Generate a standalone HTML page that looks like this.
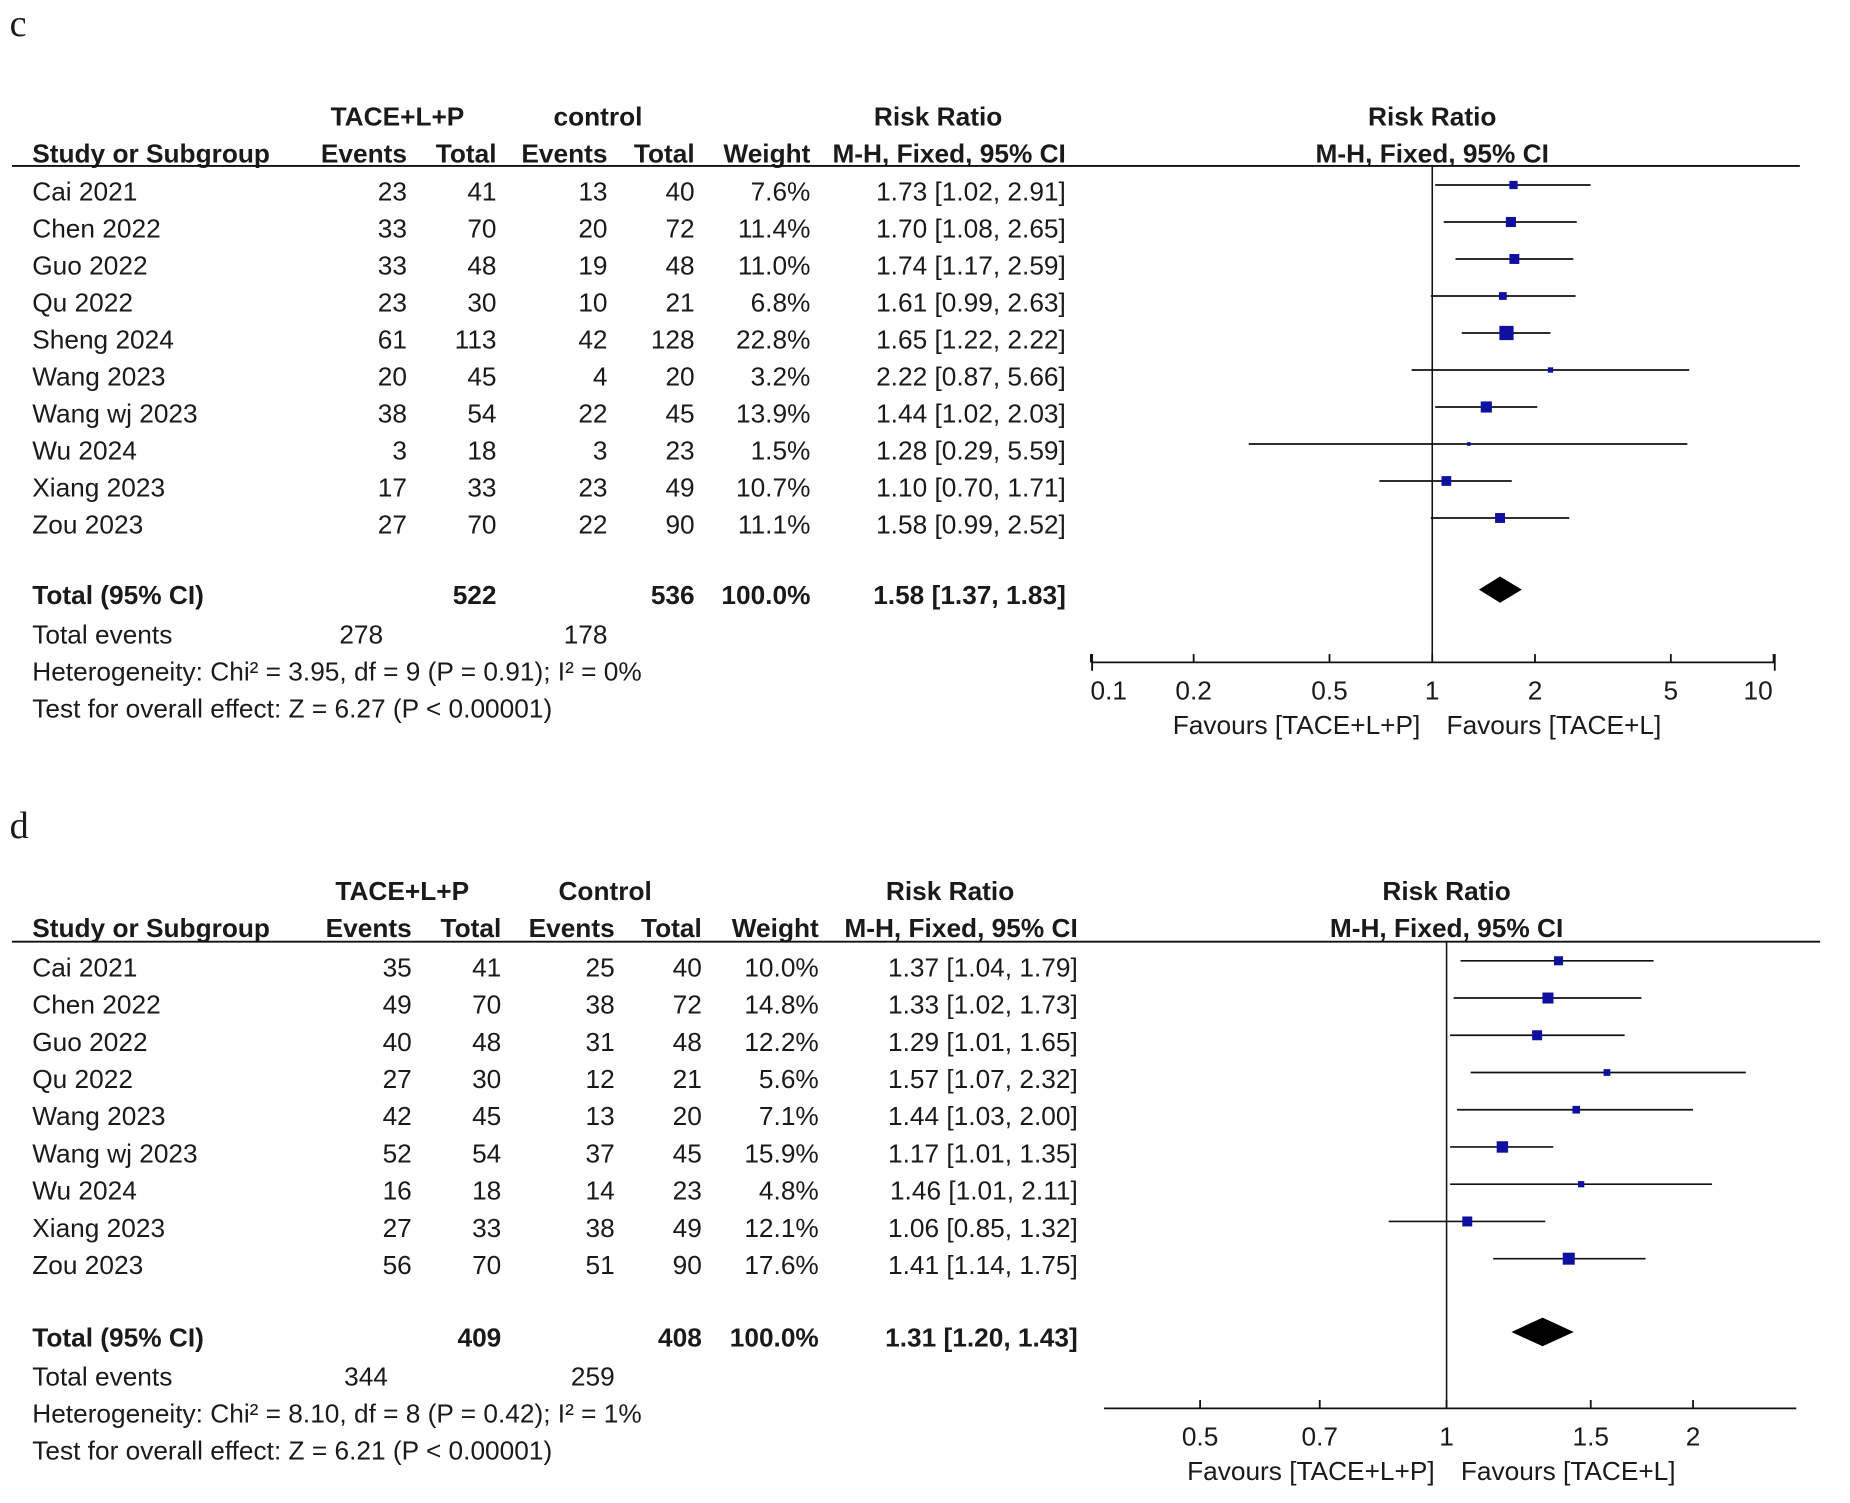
<!DOCTYPE html>
<html><head><meta charset="utf-8"><style>
html,body{margin:0;padding:0;background:#fff}
svg{display:block}
text{font-family:"Liberation Sans",Arial,sans-serif;font-size:22px;fill:#1a1a1a}
.b{font-weight:bold}
</style></head><body>
<svg id="fig" width="1850" height="1503" viewBox="0 0 1550 1259.3"></svg>
<script>
// ---- Panel c data ----
const cStudies=["Cai 2021","Chen 2022","Guo 2022","Qu 2022","Sheng 2024","Wang 2023","Wang wj 2023","Wu 2024","Xiang 2023","Zou 2023"];
const cEvT=[23,33,33,23,61,20,38,3,17,27];
const cTotT=[41,70,48,30,113,45,54,18,33,70];
const cEvC=[13,20,19,10,42,4,22,3,23,22];
const cTotC=[40,72,48,21,128,20,45,23,49,90];
const cWeight=[7.6,11.4,11.0,6.8,22.8,3.2,13.9,1.5,10.7,11.1];
const cRR=[1.73,1.70,1.74,1.61,1.65,2.22,1.44,1.28,1.10,1.58];
const cLo=[1.02,1.08,1.17,0.99,1.22,0.87,1.02,0.29,0.70,0.99];
const cHi=[2.91,2.65,2.59,2.63,2.22,5.66,2.03,5.59,1.71,2.52];
const cTotal=[1.58,1.37,1.83];
const cTicks=[0.1,0.2,0.5,1,2,5,10];
const cTickLabels=["0.1","0.2","0.5","1","2","5","10"];
// ---- Panel d data ----
const dStudies=["Cai 2021","Chen 2022","Guo 2022","Qu 2022","Wang 2023","Wang wj 2023","Wu 2024","Xiang 2023","Zou 2023"];
const dEvT=[35,49,40,27,42,52,16,27,56];
const dTotT=[41,70,48,30,45,54,18,33,70];
const dEvC=[25,38,31,12,13,37,14,38,51];
const dTotC=[40,72,48,21,20,45,23,49,90];
const dWeight=[10.0,14.8,12.2,5.6,7.1,15.9,4.8,12.1,17.6];
const dRR=[1.37,1.33,1.29,1.57,1.44,1.17,1.46,1.06,1.41];
const dLo=[1.04,1.02,1.01,1.07,1.03,1.01,1.01,0.85,1.14];
const dHi=[1.79,1.73,1.65,2.32,2.00,1.35,2.11,1.32,1.75];
const dTotal=[1.31,1.20,1.43];
const dTicks=[0.5,0.7,1,1.5,2];
const dTickLabels=["0.5","0.7","1","1.5","2"];

const NS="http://www.w3.org/2000/svg";
const svg=document.getElementById('fig');
function el(tag,attrs,parent){const e=document.createElementNS(NS,tag);for(const k in attrs)e.setAttribute(k,attrs[k]);(parent||svg).appendChild(e);return e;}
function txt(x,y,s,anchor,cls,name,parent){
  const t=el('text',{x:x,y:y,'text-anchor':anchor||'start'},parent);
  if(cls)t.setAttribute('class',cls);
  t.textContent=s;
  
  
  return t;
}
function f2(v){return v.toFixed(2);}

function panel(cfg){
  const g=el('g',{});
  
  
  const P=cfg.p;
  const t=el('text',{x:8,y:P.letterY,style:'font-family:"Liberation Serif",serif;font-size:32px'},g);
  t.textContent=cfg.id;
  
  
  txt(P.cEvT-8,P.h1,"TACE+L+P","middle","b","group-header-experimental",g);
  txt(P.cEvC-8,P.h1,cfg.ctrlName,"middle","b","group-header-control",g);
  txt(P.cRR-107,P.h1,"Risk Ratio","middle","b","risk-ratio-header",g);
  txt(P.x1,P.h1,"Risk Ratio","middle","b","plot-header",g);
  txt(27,P.h2,"Study or Subgroup","start","b","study-column-header",g);
  txt(P.cEvT,P.h2,"Events","end","b","events-header-exp",g);
  txt(P.cTotT,P.h2,"Total","end","b","total-header-exp",g);
  txt(P.cEvC,P.h2,"Events","end","b","events-header-ctrl",g);
  txt(P.cTotC,P.h2,"Total","end","b","total-header-ctrl",g);
  txt(P.cW,P.h2,"Weight","end","b","weight-header",g);
  txt(P.cRR,P.h2,"M-H, Fixed, 95% CI","end","b","rr-ci-header",g);
  txt(P.x1,P.h2,"M-H, Fixed, 95% CI","middle","b","plot-ci-header",g);
  const hl=el('line',{x1:10,x2:P.lineEnd,y1:P.hline,y2:P.hline,stroke:'#111','stroke-width':1.6},g);
  
  
  const X=v=>P.x1+Math.log10(v)*P.dec;
  const n=cfg.studies.length;
  const nl=el('line',{x1:X(1),x2:X(1),y1:P.hline,y2:P.axisY,stroke:'#111','stroke-width':1.3},g);
  
  
  for(let i=0;i<n;i++){
    const y=P.row0+i*P.rs;
    const ty=y+8;
    txt(27,ty,cfg.studies[i],"start",null,"study-name",g);
    txt(P.cEvT,ty,String(cfg.evT[i]),"end",null,"events-exp",g);
    txt(P.cTotT,ty,String(cfg.totT[i]),"end",null,"total-exp",g);
    txt(P.cEvC,ty,String(cfg.evC[i]),"end",null,"events-ctrl",g);
    txt(P.cTotC,ty,String(cfg.totC[i]),"end",null,"total-ctrl",g);
    txt(P.cW,ty,cfg.w[i].toFixed(1)+"%","end",null,"weight-value",g);
    txt(P.cRR,ty,f2(cfg.rr[i])+" ["+f2(cfg.lo[i])+", "+f2(cfg.hi[i])+"]","end",null,"rr-ci-value",g);
    const my=y-5;
    const ci=el('line',{x1:X(cfg.lo[i]),x2:X(cfg.hi[i]),y1:my,y2:my,stroke:'#111','stroke-width':1.4},g);
    
    
    const s=Math.max(3,Math.sqrt(cfg.w[i])*P.sq);
    const sq=el('rect',{x:X(cfg.rr[i])-s/2,y:my-s/2,width:s,height:s,fill:'#1010a0'},g);
    
    
  }
  txt(27,P.totY+8,"Total (95% CI)","start","b","total-label",g);
  txt(P.cTotT,P.totY+8,String(cfg.totT.reduce((a,b)=>a+b,0)),"end","b","total-exp-sum",g);
  txt(P.cTotC,P.totY+8,String(cfg.totC.reduce((a,b)=>a+b,0)),"end","b","total-ctrl-sum",g);
  txt(P.cW,P.totY+8,"100.0%","end","b","total-weight",g);
  txt(P.cRR,P.totY+8,f2(cfg.tot[0])+" ["+f2(cfg.tot[1])+", "+f2(cfg.tot[2])+"]","end","b","total-rr-ci",g);
  const dy=P.totY-4, hh=P.dh;
  const dm=el('polygon',{points:[X(cfg.tot[1])+','+dy,X(cfg.tot[0])+','+(dy-hh),X(cfg.tot[2])+','+dy,X(cfg.tot[0])+','+(dy+hh)].join(' '),fill:'#000'},g);
  
  
  txt(27,P.totY+41,"Total events","start",null,"total-events-label",g);
  txt(P.cEvT-20,P.totY+41,String(cfg.evT.reduce((a,b)=>a+b,0)),"end",null,"total-events-exp",g);
  txt(P.cEvC,P.totY+41,String(cfg.evC.reduce((a,b)=>a+b,0)),"end",null,"total-events-ctrl",g);
  txt(27,P.totY+72,cfg.het,"start",null,"heterogeneity-text",g);
  txt(27,P.totY+103,cfg.test,"start",null,"overall-effect-text",g);
  const ax=el('line',{x1:P.axL,x2:P.axR,y1:P.axisY,y2:P.axisY,stroke:'#111','stroke-width':1.5},g);
  
  
  if(cfg.endTicks){
    [P.axL,P.axR].forEach(x=>{const e=el('line',{x1:x,x2:x,y1:P.axisY-7,y2:P.axisY+7,stroke:'#111','stroke-width':1.5},g);
      
      });
  }
  cfg.ticks.forEach((v,i)=>{
    const x=X(v);
    const tk=el('line',{x1:x,x2:x,y1:P.axisY-7,y2:P.axisY,stroke:'#111','stroke-width':1.5},g);
    
    
    let lx=x;
    if(lx<P.axL+14)lx=P.axL+14;
    if(lx>P.axR-14)lx=P.axR-14;
    txt(lx,P.axisY+31,cfg.tickLabels[i],"middle",null,"x-tick-label",g);
  });
  txt(X(1)-10,P.axisY+60,"Favours [TACE+L+P]","end",null,"favours-left-label",g);
  txt(X(1)+12,P.axisY+60,"Favours [TACE+L]","start",null,"favours-right-label",g);
}

panel({id:'c',ctrlName:'control',studies:cStudies,evT:cEvT,totT:cTotT,evC:cEvC,totC:cTotC,w:cWeight,rr:cRR,lo:cLo,hi:cHi,tot:cTotal,
  ticks:cTicks,tickLabels:cTickLabels,endTicks:true,
  het:"Heterogeneity: Chi² = 3.95, df = 9 (P = 0.91); I² = 0%",test:"Test for overall effect: Z = 6.27 (P < 0.00001)",
  p:{letterY:30,h1:105,h2:136,hline:139,lineEnd:1508,row0:160,rs:31,totY:498,axisY:555,
     cEvT:341,cTotT:416,cEvC:509,cTotC:582,cW:679,cRR:893,x1:1200,dec:286,axL:915,axR:1487,sq:2.5,dh:11}});
panel({id:'d',ctrlName:'Control',studies:dStudies,evT:dEvT,totT:dTotT,evC:dEvC,totC:dTotC,w:dWeight,rr:dRR,lo:dLo,hi:dHi,tot:dTotal,
  ticks:dTicks,tickLabels:dTickLabels,endTicks:false,
  het:"Heterogeneity: Chi² = 8.10, df = 8 (P = 0.42); I² = 1%",test:"Test for overall effect: Z = 6.21 (P < 0.00001)",
  p:{letterY:702,h1:754,h2:785,hline:789,lineEnd:1525,row0:810,rs:31.2,totY:1120,axisY:1180,
     cEvT:345,cTotT:420,cEvC:515,cTotC:588,cW:686,cRR:903,x1:1212,dec:686,axL:925,axR:1505,sq:2.4,dh:12}});
</script>
</body></html>
